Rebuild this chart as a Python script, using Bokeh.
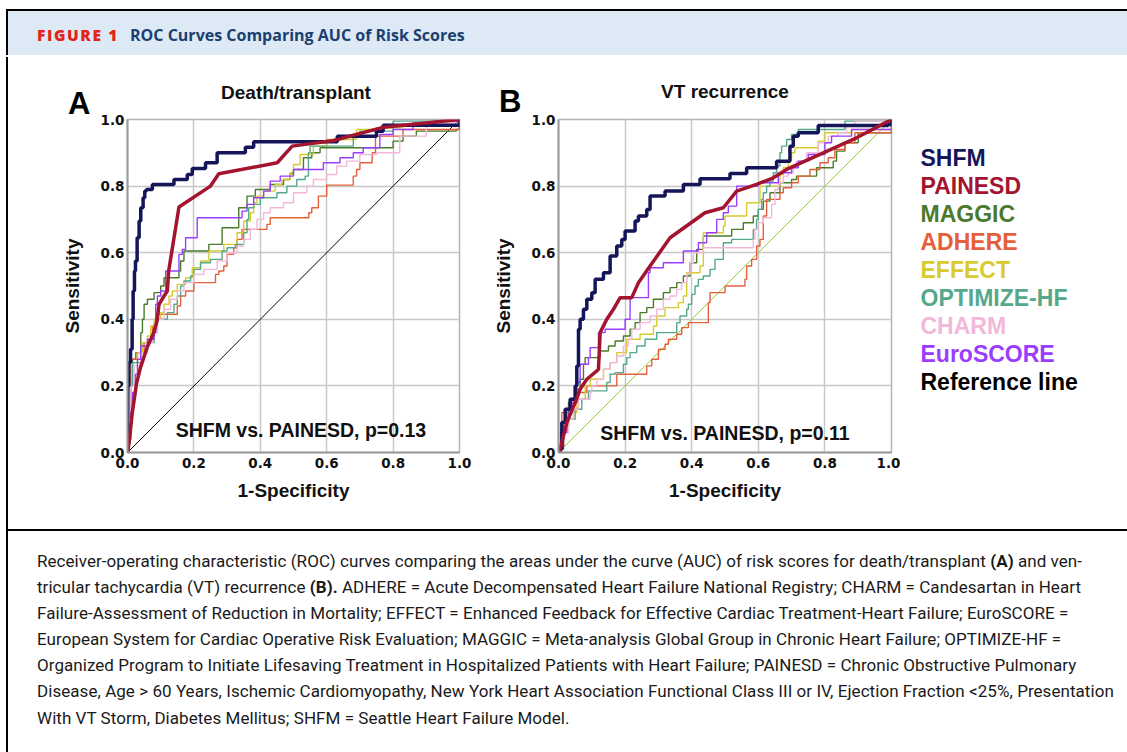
from bokeh.plotting import figure
from bokeh.models import Range1d, FixedTicker, PrintfTickFormatter, Label, Div
from bokeh.layouts import row, column
from bokeh.core.properties import value
from bokeh.embed import file_html
from bokeh.resources import INLINE

# ---------------- data ----------------
score_names = ["SHFM", "PAINESD", "MAGGIC", "ADHERE", "EFFECT", "OPTIMIZE-HF", "CHARM", "EuroSCORE"]
score_colors = ["#15155a", "#a3142f", "#4b7a2a", "#e5603a", "#d8cb30", "#55a889", "#f2b8d9", "#9b3dff"]
legend_labels = score_names + ["Reference line"]
legend_colors = score_colors + ["#000000"]
tick_values = [0.0, 0.2, 0.4, 0.6, 0.8, 1.0]
panel_titles = ["Death/transplant", "VT recurrence"]
panel_letters = ["A", "B"]
pvalue_notes = ["SHFM vs. PAINESD, p=0.13", "SHFM vs. PAINESD, p=0.11"]
reference_x = [0.0, 1.0]
reference_y = [0.0, 1.0]

# Panel A: death/transplant (step curves: x where level starts, level)
shfm_a_x = [0, 0, 0.004, 0.009, 0.014, 0.017, 0.021, 0.024, 0.029, 0.035, 0.04, 0.047, 0.052, 0.057, 0.075, 0.14, 0.18, 0.195, 0.235, 0.27, 0.355, 0.38, 0.632, 0.75, 0.77, 0.935, 1.0]
shfm_a_y = [0, 0.2, 0.27, 0.31, 0.40, 0.485, 0.545, 0.575, 0.645, 0.695, 0.735, 0.765, 0.785, 0.79, 0.805, 0.82, 0.835, 0.853, 0.87, 0.90, 0.917, 0.933, 0.95, 0.965, 0.983, 0.983, 1.0]
painesd_a_x = [0, 0.005, 0.014, 0.027, 0.039, 0.059, 0.079, 0.089, 0.095, 0.11, 0.12, 0.124, 0.145, 0.155, 0.25, 0.275, 0.451, 0.496, 0.621, 0.772, 1.0]
painesd_a_y = [0, 0.03, 0.116, 0.206, 0.255, 0.315, 0.36, 0.395, 0.445, 0.47, 0.485, 0.545, 0.675, 0.737, 0.80, 0.837, 0.87, 0.92, 0.937, 0.977, 1.0]
maggic_a_x = [0, 0.005, 0.01, 0.015, 0.025, 0.04, 0.045, 0.05, 0.06, 0.08, 0.1, 0.11, 0.155, 0.16, 0.17, 0.245, 0.285, 0.335, 0.36, 0.385, 0.43, 0.47, 0.49, 0.5, 0.53, 0.555, 0.58, 0.8, 0.83, 0.87, 0.99, 1.0]
maggic_a_y = [0, 0.1, 0.2, 0.28, 0.3, 0.36, 0.4, 0.445, 0.46, 0.48, 0.5, 0.525, 0.545, 0.575, 0.605, 0.625, 0.675, 0.735, 0.77, 0.79, 0.805, 0.82, 0.837, 0.85, 0.885, 0.9, 0.915, 0.935, 0.95, 0.965, 0.97, 1.0]
adhere_a_x = [0, 0.003, 0.006, 0.01, 0.03, 0.05, 0.07, 0.075, 0.085, 0.15, 0.16, 0.175, 0.2, 0.265, 0.275, 0.29, 0.3, 0.32, 0.33, 0.345, 0.42, 0.43, 0.546, 0.555, 0.575, 0.6, 0.68, 0.69, 0.70, 0.737, 0.747, 0.83, 0.99, 1.0]
adhere_a_y = [0, 0.1, 0.2, 0.28, 0.3, 0.33, 0.355, 0.38, 0.415, 0.44, 0.47, 0.485, 0.51, 0.535, 0.545, 0.56, 0.595, 0.615, 0.64, 0.67, 0.685, 0.705, 0.72, 0.735, 0.77, 0.803, 0.83, 0.85, 0.87, 0.90, 0.95, 0.97, 0.97, 1.0]
effect_a_x = [0, 0.004, 0.008, 0.012, 0.03, 0.045, 0.06, 0.07, 0.08, 0.1, 0.11, 0.125, 0.135, 0.15, 0.175, 0.195, 0.22, 0.245, 0.29, 0.33, 0.35, 0.37, 0.38, 0.39, 0.41, 0.445, 0.465, 0.49, 0.5, 0.52, 0.56, 0.6, 0.69, 0.75, 0.83, 1.0]
effect_a_y = [0, 0.08, 0.18, 0.27, 0.3, 0.33, 0.35, 0.38, 0.4, 0.42, 0.445, 0.47, 0.485, 0.505, 0.525, 0.555, 0.575, 0.605, 0.625, 0.66, 0.695, 0.72, 0.75, 0.77, 0.785, 0.805, 0.82, 0.84, 0.865, 0.895, 0.92, 0.94, 0.97, 0.975, 0.985, 1.0]
optimize_a_x = [0, 0.004, 0.008, 0.015, 0.04, 0.06, 0.08, 0.09, 0.12, 0.14, 0.15, 0.16, 0.17, 0.19, 0.2, 0.22, 0.25, 0.285, 0.3, 0.325, 0.35, 0.36, 0.365, 0.38, 0.4, 0.45, 0.48, 0.51, 0.535, 0.545, 0.55, 0.68, 0.7, 0.8, 1.0]
optimize_a_y = [0, 0.1, 0.2, 0.27, 0.3, 0.33, 0.36, 0.4, 0.42, 0.445, 0.47, 0.5, 0.515, 0.53, 0.55, 0.57, 0.58, 0.605, 0.615, 0.625, 0.66, 0.7, 0.735, 0.745, 0.765, 0.78, 0.8, 0.82, 0.83, 0.9, 0.92, 0.95, 0.965, 0.995, 1.0]
charm_a_x = [0, 0.004, 0.01, 0.02, 0.04, 0.06, 0.075, 0.09, 0.11, 0.13, 0.15, 0.17, 0.2, 0.23, 0.27, 0.3, 0.33, 0.35, 0.37, 0.39, 0.41, 0.43, 0.47, 0.5, 0.54, 0.56, 0.6, 0.63, 0.66, 0.7, 0.75, 0.82, 0.9, 1.0]
charm_a_y = [0, 0.1, 0.2, 0.26, 0.3, 0.33, 0.36, 0.4, 0.43, 0.46, 0.485, 0.51, 0.535, 0.55, 0.575, 0.6, 0.62, 0.64, 0.67, 0.7, 0.72, 0.735, 0.75, 0.78, 0.8, 0.82, 0.835, 0.86, 0.875, 0.895, 0.9, 0.95, 0.99, 1.0]
euro_a_x = [0, 0.005, 0.01, 0.015, 0.024, 0.03, 0.04, 0.06, 0.08, 0.085, 0.09, 0.1, 0.115, 0.155, 0.165, 0.175, 0.21, 0.345, 0.36, 0.38, 0.41, 0.43, 0.46, 0.5, 0.59, 0.64, 0.68, 0.71, 0.76, 0.8, 0.86, 0.93, 1.0]
euro_a_y = [0, 0.04, 0.12, 0.18, 0.235, 0.28, 0.32, 0.34, 0.36, 0.445, 0.47, 0.485, 0.545, 0.595, 0.61, 0.645, 0.705, 0.725, 0.745, 0.765, 0.785, 0.815, 0.83, 0.85, 0.87, 0.885, 0.9, 0.915, 0.955, 0.97, 0.99, 0.995, 1.0]

# Panel B: VT recurrence
shfm_b_x = [0, 0.005, 0.01, 0.02, 0.035, 0.05, 0.055, 0.06, 0.065, 0.075, 0.085, 0.1, 0.11, 0.135, 0.155, 0.175, 0.19, 0.2, 0.23, 0.24, 0.265, 0.275, 0.32, 0.375, 0.425, 0.515, 0.565, 0.655, 0.695, 0.705, 0.72, 0.78, 0.99, 1.0]
shfm_b_y = [0, 0.01, 0.09, 0.13, 0.16, 0.2, 0.26, 0.37, 0.4, 0.43, 0.46, 0.48, 0.52, 0.54, 0.59, 0.62, 0.64, 0.665, 0.695, 0.71, 0.73, 0.77, 0.785, 0.805, 0.822, 0.838, 0.855, 0.875, 0.92, 0.95, 0.96, 0.982, 0.985, 1.0]
painesd_b_x = [0, 0.005, 0.025, 0.05, 0.065, 0.085, 0.115, 0.12, 0.125, 0.145, 0.165, 0.185, 0.22, 0.24, 0.275, 0.335, 0.44, 0.495, 0.535, 0.595, 0.645, 0.685, 0.795, 0.895, 1.0]
painesd_b_y = [0, 0.01, 0.09, 0.15, 0.19, 0.22, 0.245, 0.25, 0.36, 0.40, 0.43, 0.465, 0.465, 0.51, 0.56, 0.645, 0.72, 0.735, 0.785, 0.805, 0.825, 0.85, 0.90, 0.945, 1.0]
maggic_b_x = [0, 0.005, 0.015, 0.03, 0.055, 0.065, 0.075, 0.08, 0.125, 0.15, 0.17, 0.195, 0.215, 0.23, 0.245, 0.265, 0.285, 0.315, 0.335, 0.355, 0.375, 0.395, 0.415, 0.435, 0.52, 0.555, 0.585, 0.6, 0.615, 0.635, 0.665, 0.7, 0.715, 0.775, 0.825, 0.835, 0.86, 0.9, 1.0]
maggic_b_y = [0, 0.02, 0.08, 0.15, 0.19, 0.22, 0.265, 0.285, 0.305, 0.32, 0.335, 0.35, 0.37, 0.39, 0.42, 0.435, 0.46, 0.48, 0.495, 0.51, 0.53, 0.57, 0.61, 0.65, 0.67, 0.69, 0.71, 0.73, 0.755, 0.78, 0.81, 0.82, 0.83, 0.855, 0.875, 0.905, 0.93, 0.96, 1.0]
adhere_b_x = [0, 0.003, 0.006, 0.01, 0.02, 0.03, 0.05, 0.06, 0.085, 0.175, 0.265, 0.28, 0.3, 0.32, 0.33, 0.355, 0.37, 0.39, 0.45, 0.455, 0.5, 0.56, 0.565, 0.58, 0.595, 0.605, 0.615, 0.625, 0.665, 0.675, 0.7, 0.72, 0.755, 0.785, 0.81, 0.83, 0.86, 0.89, 1.0]
adhere_b_y = [0, 0.02, 0.06, 0.12, 0.13, 0.14, 0.16, 0.18, 0.2, 0.235, 0.26, 0.28, 0.31, 0.325, 0.34, 0.355, 0.375, 0.39, 0.45, 0.48, 0.5, 0.52, 0.56, 0.58, 0.62, 0.64, 0.71, 0.76, 0.78, 0.795, 0.81, 0.83, 0.85, 0.87, 0.885, 0.91, 0.93, 0.96, 1.0]
effect_b_x = [0, 0.005, 0.015, 0.03, 0.045, 0.055, 0.08, 0.095, 0.135, 0.155, 0.175, 0.205, 0.245, 0.285, 0.295, 0.32, 0.36, 0.375, 0.385, 0.425, 0.435, 0.495, 0.5, 0.565, 0.605, 0.665, 0.675, 0.69, 0.7, 0.71, 0.78, 0.8, 0.88, 1.0]
effect_b_y = [0, 0.02, 0.07, 0.1, 0.12, 0.16, 0.2, 0.22, 0.25, 0.27, 0.30, 0.34, 0.355, 0.38, 0.41, 0.435, 0.45, 0.47, 0.54, 0.56, 0.66, 0.68, 0.71, 0.75, 0.8, 0.835, 0.855, 0.88, 0.9, 0.915, 0.935, 0.96, 0.97, 1.0]
optimize_b_x = [0, 0.005, 0.015, 0.03, 0.05, 0.07, 0.09, 0.145, 0.155, 0.17, 0.195, 0.205, 0.215, 0.235, 0.26, 0.295, 0.355, 0.365, 0.385, 0.39, 0.4, 0.41, 0.42, 0.435, 0.455, 0.47, 0.495, 0.52, 0.585, 0.595, 0.6, 0.61, 0.615, 0.625, 0.635, 0.645, 0.655, 0.665, 0.67, 0.685, 0.7, 0.72, 0.86, 1.0]
optimize_b_y = [0, 0.02, 0.08, 0.1, 0.13, 0.16, 0.185, 0.21, 0.235, 0.24, 0.265, 0.285, 0.30, 0.32, 0.34, 0.36, 0.39, 0.41, 0.43, 0.445, 0.475, 0.5, 0.52, 0.53, 0.55, 0.58, 0.63, 0.64, 0.67, 0.7, 0.73, 0.76, 0.78, 0.80, 0.815, 0.84, 0.86, 0.9, 0.92, 0.94, 0.955, 0.97, 0.995, 1.0]
charm_b_x = [0, 0.005, 0.015, 0.03, 0.045, 0.06, 0.095, 0.1, 0.115, 0.135, 0.155, 0.175, 0.195, 0.21, 0.22, 0.245, 0.275, 0.295, 0.315, 0.335, 0.355, 0.37, 0.385, 0.395, 0.405, 0.435, 0.585, 0.59, 0.6, 0.615, 0.64, 0.65, 0.66, 0.675, 0.69, 0.705, 0.715, 0.745, 0.78, 0.81, 0.84, 0.865, 0.89, 1.0]
charm_b_y = [0, 0.02, 0.06, 0.1, 0.13, 0.16, 0.18, 0.2, 0.22, 0.25, 0.27, 0.29, 0.32, 0.34, 0.37, 0.39, 0.41, 0.43, 0.46, 0.47, 0.49, 0.51, 0.535, 0.57, 0.6, 0.615, 0.64, 0.67, 0.69, 0.705, 0.745, 0.79, 0.81, 0.83, 0.84, 0.86, 0.875, 0.9, 0.93, 0.95, 0.96, 0.98, 0.995, 1.0]
euro_b_x = [0, 0.005, 0.015, 0.025, 0.04, 0.055, 0.065, 0.09, 0.095, 0.12, 0.14, 0.2, 0.215, 0.27, 0.275, 0.315, 0.375, 0.42, 0.445, 0.475, 0.495, 0.51, 0.535, 0.6, 0.66, 0.7, 0.72, 0.75, 0.8, 0.82, 0.88, 1.0]
euro_b_y = [0, 0.01, 0.06, 0.12, 0.15, 0.21, 0.265, 0.285, 0.315, 0.36, 0.37, 0.40, 0.465, 0.54, 0.555, 0.57, 0.605, 0.63, 0.66, 0.70, 0.72, 0.74, 0.80, 0.81, 0.84, 0.855, 0.875, 0.895, 0.93, 0.95, 0.97, 1.0]

panel_a_thin = [("MAGGIC", maggic_a_x, maggic_a_y), ("ADHERE", adhere_a_x, adhere_a_y),
                ("EFFECT", effect_a_x, effect_a_y), ("OPTIMIZE-HF", optimize_a_x, optimize_a_y),
                ("CHARM", charm_a_x, charm_a_y), ("EuroSCORE", euro_a_x, euro_a_y)]
panel_b_thin = [("MAGGIC", maggic_b_x, maggic_b_y), ("ADHERE", adhere_b_x, adhere_b_y),
                ("EFFECT", effect_b_x, effect_b_y), ("OPTIMIZE-HF", optimize_b_x, optimize_b_y),
                ("CHARM", charm_b_x, charm_b_y), ("EuroSCORE", euro_b_x, euro_b_y)]

color_of = dict(zip(score_names, score_colors))
LAB_FONT = "Liberation Sans"


def make_panel(note, thin, shfm, painesd, ref_color, bl, br, bt, bb, fw, fh, note_xy):
    p = figure(frame_width=fw, frame_height=fh, x_range=Range1d(0, 1), y_range=Range1d(0, 1),
               output_backend="svg", toolbar_location=None,
               min_border_left=bl, min_border_right=br, min_border_top=bt, min_border_bottom=bb,
               background_fill_color="white", border_fill_color="white", border_fill_alpha=0)
    p.outline_line_color = "#b4b4b4"
    p.outline_line_width = 1.5
    for ax in (p.xaxis[0], p.yaxis[0]):
        ax.ticker = FixedTicker(ticks=tick_values)
        ax.formatter = PrintfTickFormatter(format="%.1f")
        ax.major_tick_line_color = None
        ax.minor_tick_line_color = None
        ax.major_tick_out = 0
        ax.major_tick_in = 0
        ax.minor_tick_out = 0
        ax.minor_tick_in = 0
        ax.axis_line_color = "#9a9a9a"
        ax.axis_line_width = 2
        ax.major_label_text_font = "DejaVu Sans"
        ax.major_label_text_font_style = "bold"
        ax.major_label_text_font_size = "13.5px"
        ax.major_label_text_color = "#111111"
        ax.axis_label_text_font = LAB_FONT
        ax.axis_label_text_font_style = "bold"
        ax.axis_label_text_font_size = "19px"
        ax.axis_label_text_color = "#111111"
    p.xaxis.axis_label = "1-Specificity"
    p.yaxis.axis_label = "Sensitivity"
    p.xaxis.major_label_standoff = 5
    p.yaxis.major_label_standoff = 3
    p.xaxis.axis_label_standoff = 9
    p.yaxis.axis_label_standoff = 15
    p.grid.grid_line_color = "#c8c8c8"
    p.grid.grid_line_width = 1.5

    p.line(reference_x, reference_y, line_color=ref_color, line_width=1)
    for name, xs, ys in thin:
        p.step(xs, ys, mode="after", line_color=color_of[name], line_width=1.4)
    p.step(shfm[0], shfm[1], mode="after", line_color=color_of["SHFM"], line_width=3.5)
    p.line(painesd[0], painesd[1], line_color=color_of["PAINESD"], line_width=3.5)

    p.add_layout(Label(x=note_xy[0], y=note_xy[1], text=note, text_font=LAB_FONT, text_font_style="bold",
                       text_font_size="19.5px", text_color="#111111"))
    return p


pA = make_panel(pvalue_notes[0], panel_a_thin, (shfm_a_x, shfm_a_y), (painesd_a_x, painesd_a_y), "#000000",
                119, 25, 10, 77, 332, 333, (0.145, 0.035))
pB = make_panel(pvalue_notes[1], panel_b_thin, (shfm_b_x, shfm_b_y), (painesd_b_x, painesd_b_y), "#8fd140",
                74, 9, 8, 79, 333, 333, (0.125, 0.025))

# legend panel (text only, coloured)
pL = figure(frame_width=227, frame_height=333, x_range=Range1d(0, 227), y_range=Range1d(333, 0),
            output_backend="svg", toolbar_location=None,
            min_border_left=0, min_border_right=0, min_border_top=8, min_border_bottom=79,
            border_fill_alpha=0)
pL.axis.visible = False
pL.grid.visible = False
pL.outline_line_color = None
leg_y = [38 + 28 * i for i in range(len(legend_labels))]
pL.text(x=[20] * len(legend_labels), y=leg_y, text=legend_labels, text_color=legend_colors,
        text_font=value(LAB_FONT), text_font_style="bold", text_font_size="23px",
        text_baseline="middle", text_align="left")

header_html = (
    '<div style="position:relative;width:1127px;height:57px;">'
    '<div style="position:absolute;left:6px;top:9px;width:1121px;height:46px;border-top:2px solid #000;'
    'border-left:2px solid #000;background:#dde9f5;"></div>'
    '<div style="position:absolute;left:37px;top:25px;white-space:nowrap;font-family:\'Open Sans\',sans-serif;'
    'font-weight:800;color:#e2231a;font-size:15.5px;letter-spacing:1.6px;line-height:20px;">FIGURE 1</div>'
    '<div style="position:absolute;left:130px;top:24px;white-space:nowrap;font-family:\'Open Sans\',sans-serif;'
    'font-weight:bold;color:#1b3f6f;font-size:16px;line-height:22px;">ROC Curves Comparing AUC of Risk Scores</div>'
    '</div>'
)
header = Div(text=header_html, width=1127, height=57, margin=0)

title_font = "font-family:'Liberation Sans',Arial,sans-serif;font-weight:bold;line-height:1;white-space:nowrap;color:#111;"
strip_html = (
    '<div style="position:relative;width:1127px;height:52px;overflow:visible;">'
    '<div style="position:absolute;left:6px;top:0px;width:2px;height:52px;background:#000;"></div>'
    f'<div style="position:absolute;left:68px;top:31px;font-size:31px;{title_font}color:#000;">{panel_letters[0]}</div>'
    f'<div style="position:absolute;left:196px;top:26px;width:200px;text-align:center;font-size:19px;{title_font}">{panel_titles[0]}</div>'
    f'<div style="position:absolute;left:499px;top:29px;font-size:31px;{title_font}color:#000;">{panel_letters[1]}</div>'
    f'<div style="position:absolute;left:625px;top:25px;width:200px;text-align:center;font-size:19px;{title_font}">{panel_titles[1]}</div>'
    '</div>'
)
strip = Div(text=strip_html, width=1127, height=52, margin=0, styles={"overflow": "visible"})

left_bar = Div(text='<div style="margin-left:6px;width:2px;height:420px;background:#000;"></div>',
               width=8, height=420, margin=0)

caption_lines = [
    "Receiver-operating characteristic (ROC) curves comparing the areas under the curve (AUC) of risk scores for death/transplant <b>(A)</b> and ven-",
    "tricular tachycardia (VT) recurrence <b>(B).</b> ADHERE = Acute Decompensated Heart Failure National Registry; CHARM = Candesartan in Heart",
    "Failure-Assessment of Reduction in Mortality; EFFECT = Enhanced Feedback for Effective Cardiac Treatment-Heart Failure; EuroSCORE =",
    "European System for Cardiac Operative Risk Evaluation; MAGGIC = Meta-analysis Global Group in Chronic Heart Failure; OPTIMIZE-HF =",
    "Organized Program to Initiate Lifesaving Treatment in Hospitalized Patients with Heart Failure; PAINESD = Chronic Obstructive Pulmonary",
    "Disease, Age &gt; 60 Years, Ischemic Cardiomyopathy, New York Heart Association Functional Class III or IV, Ejection Fraction &lt;25%, Presentation",
    "With VT Storm, Diabetes Mellitus; SHFM = Seattle Heart Failure Model.",
]
caption_html = (
    '<div style="position:relative;width:1127px;height:223px;">'
    '<div style="position:absolute;left:6px;top:0px;width:1121px;height:223px;border-top:2px solid #000;'
    'border-left:2px solid #000;"></div>'
    '<div style="position:absolute;left:37px;top:19px;font-family:\'Roboto\',sans-serif;'
    'font-size:17px;letter-spacing:0.05px;line-height:26.1px;color:#1a1a1a;white-space:nowrap;">'
    + "<br>".join(caption_lines) +
    '</div></div>'
)
caption = Div(text=caption_html, width=1127, height=223, margin=0)

layout = column(header, strip, row(left_bar, pA, pB, pL), caption)

open("out.html", "w").write(file_html(layout, INLINE))
